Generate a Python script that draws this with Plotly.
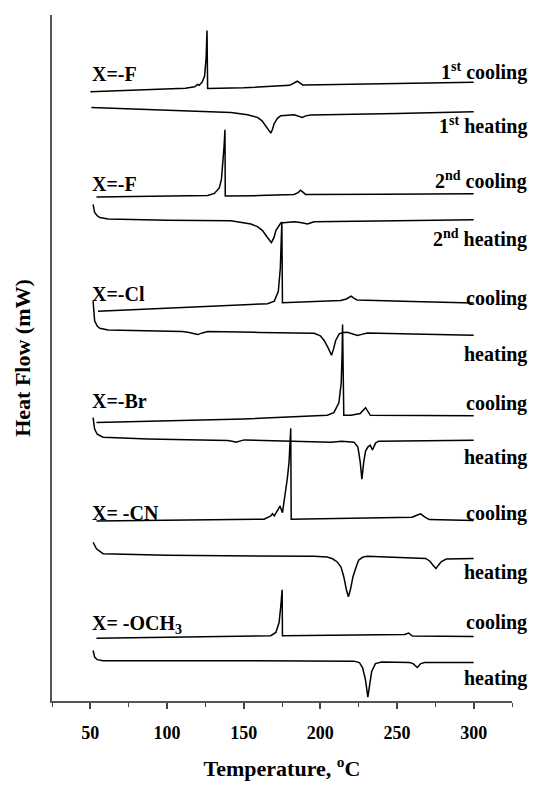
import plotly.graph_objects as go

# Temperature (°C) and heat-flow offset (arbitrary units, stacked curves)
f1_cool_T = [50, 80, 112, 118, 120, 121, 123, 124.5, 125.5, 126.1, 126.5, 150, 174, 180, 185, 188.5, 200, 250, 300]
f1_cool_H = [619, 620.5, 622.5, 624, 626.5, 625.5, 629, 635, 653, 681.3, 622.3, 623, 624.5, 625.5, 629.7, 626, 626.2, 627.5, 628.7]

f1_heat_T = [50.7, 100, 141.7, 152.5, 159, 162, 164.4, 166.5, 167.7, 168.8, 169.8, 172, 174.2, 182.9, 186, 188.3, 190.5, 193.7, 250, 300]
f1_heat_H = [603, 600.5, 598, 595.7, 593, 589.5, 584.7, 580, 577, 581, 586.3, 592, 594.7, 595.7, 594.5, 593, 594.5, 595.3, 597, 598.7]

f2_cool_T = [54, 100, 126.5, 130.9, 134.1, 135.5, 136.3, 137.2, 137.8, 138.0, 160, 182.8, 185.5, 187.1, 189, 190.4, 240, 300]
f2_cool_H = [512, 512.7, 513.7, 515.7, 521.3, 530, 543, 563, 580.3, 513, 513.5, 514.7, 516.5, 519, 516.5, 514.7, 515, 515.3]

f2_heat_T = [51.8, 52.8, 54.5, 56.2, 61.6, 100, 141.7, 154.7, 159, 162.3, 165.5, 168.1, 169.8, 171, 174.2, 182.9, 188, 191.6, 194, 196, 250, 300]
f2_heat_H = [504.7, 496.3, 493, 491.3, 489.7, 488.5, 488, 484.7, 482, 478, 471, 465.7, 471, 478, 485.7, 487, 486, 484.7, 486, 487, 488, 489]

cl_cool_T = [55, 110, 165.6, 170, 172.6, 173.9, 174.6, 174.9, 175.3, 200, 213.2, 217, 220.1, 222, 224, 260, 300]
cl_cool_H = [396, 399.5, 403.7, 406.3, 416.3, 439.7, 463, 487, 404.7, 406, 407, 408.5, 411.3, 409, 407.5, 406, 404.5]

cl_heat_T = [51.8, 52.8, 54.5, 56.2, 61.6, 100, 110, 113.6, 117, 120.1, 123, 126.6, 160, 196, 200, 202.5, 205, 207.3, 208.5, 210, 212.3, 215, 217.7, 221, 224.2, 227, 230.7, 260, 300]
cl_heat_H = [406.3, 386.3, 381, 378.7, 377, 376, 375.5, 374.7, 373.5, 372.3, 374, 375.3, 374.5, 373.7, 371, 366.3, 359, 351.3, 357, 366.3, 373, 374.3, 374.7, 373, 371.3, 372.5, 374, 373, 371.6]

br_cool_T = [54, 100, 150, 204.5, 208.8, 212.1, 213.6, 214.2, 214.5, 215.3, 220, 226, 229.5, 232.6, 260, 300]
br_cool_H = [283, 284.7, 286.5, 290.3, 293, 303, 323, 353, 382.6, 290.3, 290.3, 292, 298, 290.3, 290, 289.7]

br_heat_T = [51.8, 52.8, 54.5, 58.3, 87.6, 139.5, 142.5, 145.1, 148, 150.4, 206.9, 214, 222, 224.5, 226, 227.1, 228.3, 229.5, 231, 232.5, 234, 236, 238, 260, 300]
br_heat_H = [288, 276.3, 271, 268, 266.3, 264.7, 263.8, 263, 264.3, 265.3, 263, 264, 263, 258, 243, 225.5, 243, 254, 258, 260, 255, 262, 264, 264.5, 265]

cn_cool_T = [54, 100, 163.3, 167.7, 168.8, 170, 172, 173.7, 175.3, 176.8, 178.5, 179.6, 180.4, 180.7, 181.0, 220, 259.8, 262.5, 265.4, 268, 271, 300]
cn_cool_H = [183, 183.5, 184.7, 188, 190.3, 188, 193, 198, 191.3, 206.3, 226.3, 243, 263, 277, 184.7, 185.5, 186.7, 188.5, 190.1, 187, 184.3, 183.3]

cn_heat_T = [51.8, 54, 58.3, 100, 195.8, 204.5, 208, 211, 213.5, 215.3, 217, 218.3, 219.6, 221.3, 223.5, 225, 227.5, 230.5, 268.7, 271.5, 273.5, 275.4, 277, 278.8, 282.1, 300]
cn_heat_H = [161.3, 154.7, 149.7, 148, 147, 146.3, 144.5, 141.3, 136, 126.3, 113, 106, 113, 126.3, 137, 143, 146, 147, 144.8, 142, 138, 134.6, 138, 141.4, 144.2, 144.8]

och3_cool_T = [54, 89.7, 167.7, 171, 173.1, 174.2, 174.8, 175.1, 175.3, 220, 255, 257.6, 260, 300]
och3_cool_H = [63.7, 64.7, 66.3, 69.7, 79.7, 96.3, 108, 113, 66.3, 67, 67.5, 69.1, 66, 65.6]

och3_heat_T = [51.8, 52.8, 54.5, 58.3, 150, 221.8, 225.5, 227.5, 229.4, 231, 232.5, 233.5, 235.9, 240, 258, 260.5, 263.2, 265.5, 268, 300]
och3_heat_H = [51.3, 44.7, 42, 41, 41, 40.5, 39, 34, 22, 4, 20, 30, 38, 39.5, 39.2, 38, 34.1, 38, 39.2, 39.2]

curves = [
    (f1_cool_T, f1_cool_H), (f1_heat_T, f1_heat_H),
    (f2_cool_T, f2_cool_H), (f2_heat_T, f2_heat_H),
    (cl_cool_T, cl_cool_H), (cl_heat_T, cl_heat_H),
    (br_cool_T, br_cool_H), (br_heat_T, br_heat_H),
    (cn_cool_T, cn_cool_H), (cn_heat_T, cn_heat_H),
    (och3_cool_T, och3_cool_H), (och3_heat_T, och3_heat_H),
]

left_labels = ["X=-F", "X=-F", "X=-Cl", "X=-Br", "X= -CN", "X= -OCH<sub>3</sub>"]
left_label_y = [637, 525, 414, 305, 191, 78]
right_labels = ["1<sup>st</sup> cooling", "1<sup>st</sup> heating", "2<sup>nd</sup> cooling", "2<sup>nd</sup> heating",
                "cooling", "heating", "cooling", "heating", "cooling", "heating", "cooling", "heating"]
right_label_y = [640, 585, 529, 470, 409, 352, 302, 247, 191, 131, 80, 23]

tick_vals = [50, 100, 150, 200, 250, 300]

FONT = "Liberation Serif"

fig = go.Figure()
for T, H in curves:
    fig.add_trace(go.Scatter(x=T, y=H, mode="lines", line=dict(color="black", width=1.5),
                             showlegend=False, hoverinfo="skip"))

for txt, yv in zip(left_labels, left_label_y):
    fig.add_annotation(x=49.5, y=yv, xref="x", yref="y", text="<b>%s</b>" % txt, showarrow=False,
                       xanchor="left", yanchor="middle", font=dict(family=FONT, size=20, color="black"))
for txt, yv in zip(right_labels, right_label_y):
    fig.add_annotation(x=1.037, y=yv, xref="paper", yref="y", text="<b>%s</b>" % txt, showarrow=False,
                       xanchor="right", yanchor="middle", font=dict(family=FONT, size=20, color="black"))

fig.update_layout(
    width=538, height=789,
    margin=dict(l=51.5, r=26, t=15, b=76),
    paper_bgcolor="white", plot_bgcolor="white",
    showlegend=False,
    xaxis=dict(range=[25, 325], tickvals=tick_vals, ticktext=["<b>%d</b>" % v for v in tick_vals],
               ticks="outside", ticklen=6, tickwidth=1.5, tickcolor="#444",
               minor=dict(dtick=25, tick0=25, ticks="outside", ticklen=4, tickwidth=1, tickcolor="#444"),
               showline=True, linecolor="#555", linewidth=1.5, showgrid=False, zeroline=False,
               tickfont=dict(family=FONT, size=18, color="black"), ticklabelstandoff=9,
               title=dict(text="<b>Temperature, <sup>o</sup>C</b>", font=dict(family=FONT, size=22, color="black"),
                          standoff=18)),
    yaxis=dict(range=[0, 697], showticklabels=False, ticks="", showline=True, linecolor="#555", linewidth=1.5,
               showgrid=False, zeroline=False,
               title=dict(text="<b>Heat Flow (mW)</b>", font=dict(family=FONT, size=22, color="black"),
                          standoff=14)),
)

fig.write_html("out.html", config={"displayModeBar": False},
               post_script="document.body.style.margin='0px';")
